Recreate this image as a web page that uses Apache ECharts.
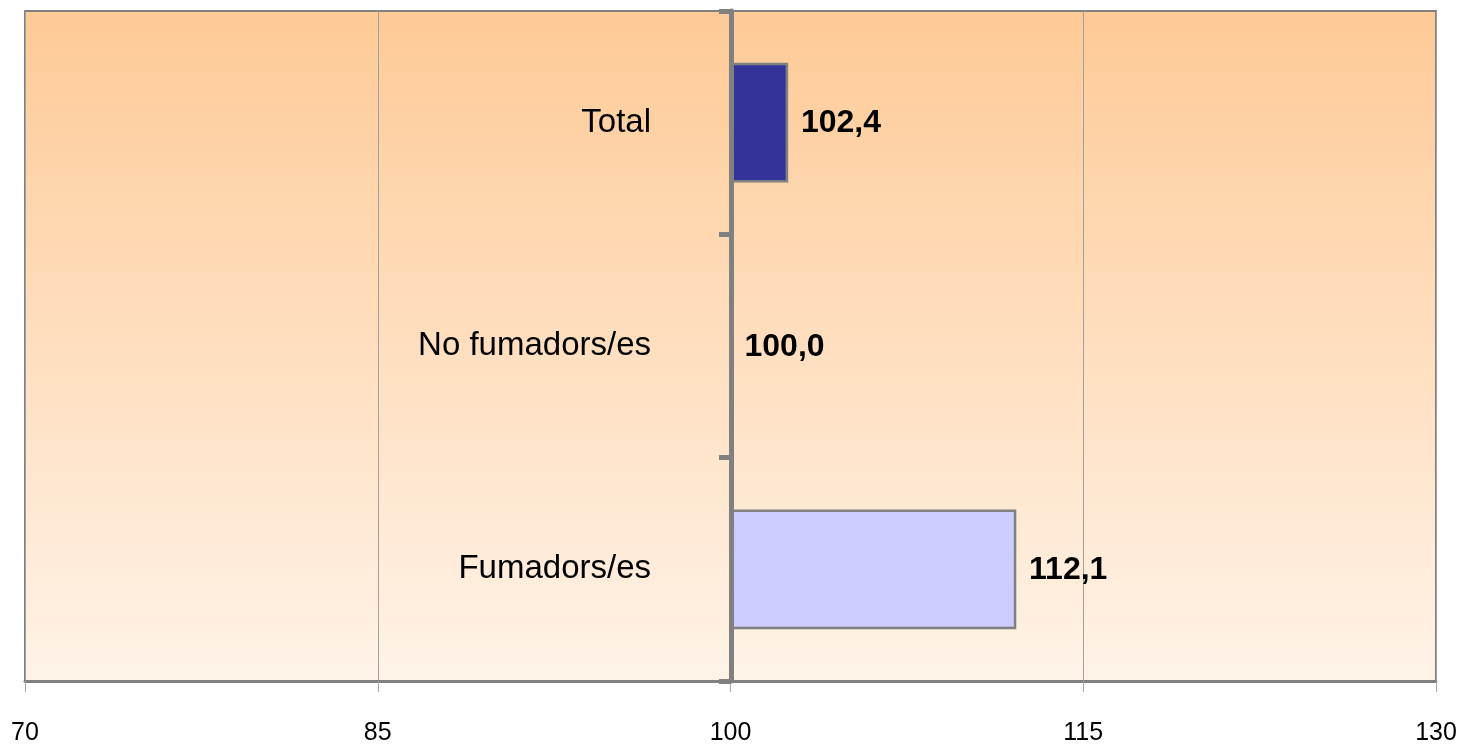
<!DOCTYPE html>
<html>
<head>
<meta charset="utf-8">
<script src="https://cdn.jsdelivr.net/npm/echarts@6/dist/echarts.min.js"></script>
<style>
html,body{margin:0;padding:0;background:#fff;}
#chart{width:1466px;height:747px;}
</style>
</head>
<body>
<div id="chart"></div>
<script>
// Data (bottom-to-top order for the category axis)
const categories = ['Fumadors/es', 'No fumadors/es', 'Total'];
const values = [112.1, 100.0, 102.4];
const xTicks = [70, 85, 100, 115, 130];
const baseValue = 100;
const barColors = ['#CCCCFF', '#CCCCFF', '#333399'];

const FONT = "'Liberation Sans Narrow', 'Arial Narrow', 'Liberation Sans', sans-serif";

const chart = echarts.init(document.getElementById('chart'));

const seriesData = values.map((v, i) => [v, i]);

chart.setOption({
  backgroundColor: '#ffffff',
  animation: false,
  grid: {
    left: 25, right: 30, top: 11, bottom: 66,
    show: true,
    borderColor: '#808080',
    borderWidth: 2,
    backgroundColor: new echarts.graphic.LinearGradient(0, 0, 0, 1, [
      { offset: 0, color: '#FECA96' },
      { offset: 1, color: '#FFF3E8' }
    ])
  },
  xAxis: {
    type: 'value',
    min: xTicks[0],
    max: xTicks[xTicks.length - 1],
    interval: 15,
    axisLine: { show: true, lineStyle: { color: '#808080', width: 3 } },
    axisTick: { show: true, length: 11, lineStyle: { color: '#A8A8A8', width: 1 } },
    splitLine: { show: true, lineStyle: { color: '#A0A0A0', width: 1 } },
    axisLabel: {
      color: '#000', fontFamily: FONT, fontSize: 25, margin: 40,
      formatter: v => String(v)
    }
  },
  yAxis: {
    type: 'category',
    data: categories,
    position: 'left',
    offset: -706,
    z: 10,
    axisLine: { show: true, lineStyle: { color: '#808080', width: 5 } },
    axisTick: { show: true, length: 12, lineStyle: { color: '#808080', width: 5 } },
    splitLine: { show: false },
    axisLabel: { color: '#000', fontFamily: FONT, fontSize: 33, margin: 80 }
  },
  series: [{
    type: 'custom',
    encode: { x: 0, y: 1 },
    data: seriesData,
    z: 2,
    renderItem: function (params, api) {
      const val = api.value(0);
      const idx = api.value(1);
      const start = api.coord([baseValue, idx]);
      const end = api.coord([val, idx]);
      const band = api.size([0, 1])[1];
      const h = band * 0.525;
      const children = [];
      const w = end[0] - start[0];
      if (Math.abs(w) > 0.01) {
        children.push({
          type: 'rect',
          shape: { x: start[0], y: start[1] - h / 2, width: w, height: h },
          style: { fill: barColors[idx], stroke: '#808080', lineWidth: 2.5 }
        });
      }
      children.push({
        type: 'text',
        style: {
          text: val.toFixed(1).replace('.', ','),
          x: Math.max(end[0], start[0]) + 14,
          y: start[1] + 1,
          verticalAlign: 'middle',
          align: 'left',
          fill: '#000',
          font: 'bold 32px ' + FONT
        }
      });
      return { type: 'group', children: children };
    }
  }]
});
</script>
</body>
</html>
